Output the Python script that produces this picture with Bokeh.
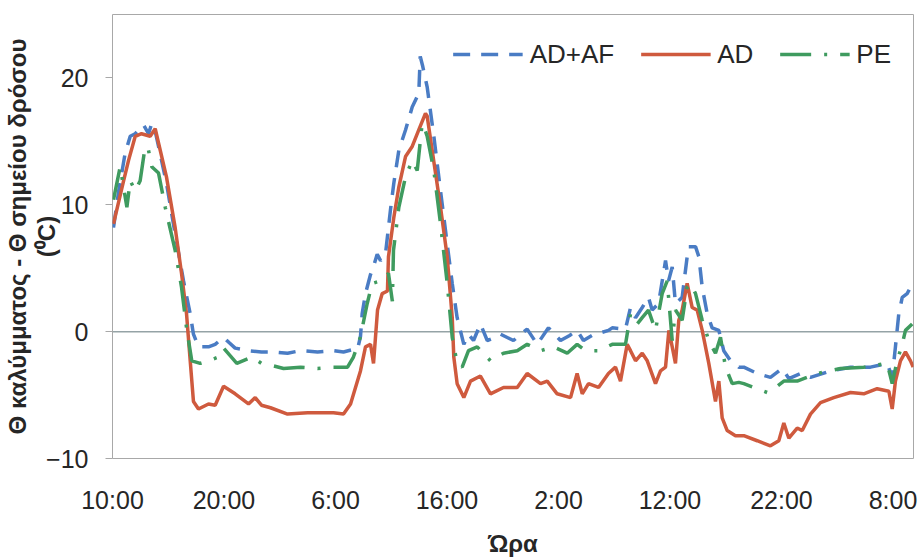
import math
from bokeh.plotting import figure
from bokeh.models import Range1d, FixedTicker, Span, Legend, LegendItem, LinearAxis
from bokeh.embed import file_html
from bokeh.resources import INLINE

# ---- axis ticks (hours since 10:00 of day 1) ----
tick_hours = [0, 10, 20, 30, 40, 50, 60, 70]
tick_labels = ["10:00", "20:00", "6:00", "16:00", "2:00", "12:00", "22:00", "8:00"]
y_ticks = [-10, 0, 10, 20]

# ---- AD+AF series ----
ad_af_h = [0.09, 0.54, 1.14, 1.59, 2.04, 2.78, 3.23, 3.52, 3.83, 4.13, 4.84, 5.62, 6.37, 6.97,
           7.26, 7.71, 8.61, 9.21, 9.96, 10.5, 11.0, 12.2, 13.36, 14.44, 15.7, 16.86, 18.39,
           19.82, 20.72, 21.61, 21.97, 22.24, 22.39, 22.69, 23.14, 23.29, 23.74, 24.04, 24.48,
           24.93, 25.23, 25.68, 26.28, 26.88, 27.47, 27.6, 27.8, 28.22, 28.82, 29.42, 30.02,
           30.47, 30.91, 31.51, 31.93, 32.38, 33.0, 33.61, 34.2, 34.8, 35.96, 37.19, 38.09,
           39.1, 40.18, 41.0, 41.67, 42.24, 43.02, 44.48, 44.82, 46.01, 46.46, 46.91, 47.51,
           48.07, 48.4, 48.97, 49.6, 49.87, 50.2, 50.49, 51.09, 51.54, 51.68, 52.29, 52.59,
           52.89, 53.34, 53.78, 54.38, 54.82, 55.43, 56.17, 56.62, 57.82, 59.01, 60.06, 60.66,
           61.7, 62.6, 64.39, 66.19, 67.98, 69.48, 69.93, 70.22, 70.52, 70.83, 71.27, 71.57,
           71.81]
ad_af_v = [8.2, 11.0, 14.1, 15.4, 15.6, 16.3, 15.6, 16.4, 15.8, 14.6, 11.7, 7.7, 4.0, 1.4,
           -0.2, -1.2, -1.2, -1.0, -0.45, -0.9, -1.3, -1.5, -1.6, -1.6, -1.7, -1.5, -1.6,
           -1.5, -1.6, -1.4, -1.4, -0.4, 1.4, 3.0, 4.5, 4.8, 6.1, 5.6, 6.1,
           9.6, 11.7, 14.3, 15.9, 17.7, 18.8, 21.7, 21.0, 19.3, 15.4, 11.1, 6.9,
           3.8, 1.1, -1.0, -0.2, -0.7, 0.6, -0.7, -0.5, -0.2, -0.7, 0.2, -1.0,
           0.3, -0.7, -0.3, 0.1, -0.7, -0.3, 0.1, 0.3, 0.2, 1.9, 1.1, 1.9,
           2.7, 1.7, 2.2, 5.6, 4.0, 5.1, 2.2, 2.7, 5.9, 6.7, 6.7, 5.9,
           3.5, 1.4, 0.3, 0.1, -1.5, -2.3, -2.8, -2.8, -3.3, -3.6, -2.9, -3.7,
           -3.3, -3.6, -3.1, -2.8, -2.8, -2.5, -3.6, -1.2, 1.4, 2.7, 3.0, 3.5,
           3.8]

# ---- AD series ----
ad_h = [0.09, 1.0, 1.44, 2.04, 2.6, 3.38, 3.83, 4.28, 4.84, 5.62, 6.19, 6.64, 6.97, 7.26,
        7.71, 8.61, 9.21, 9.96, 11.0, 12.2, 12.8, 13.36, 14.17, 15.7, 17.5, 19.82, 20.72,
        21.35, 22.24, 22.69, 23.14, 23.41, 23.77, 24.19, 24.66, 24.75, 25.23, 25.68, 26.28,
        26.88, 27.47, 28.07, 28.22, 28.67, 29.42, 30.02, 30.47, 30.61, 30.91, 31.51, 32.11,
        33.0, 33.9, 35.07, 36.3, 37.19, 38.39, 38.99, 39.88, 41.08, 41.67, 42.13, 42.69,
        43.59, 44.48, 45.11, 45.56, 46.16, 46.46, 46.91, 47.51, 47.96, 48.7, 49.15, 49.6,
        49.9, 50.2, 50.49, 50.79, 51.09, 51.54, 51.99, 52.44, 52.89, 53.48, 54.08, 54.38,
        54.68, 55.13, 55.87, 56.62, 57.82, 59.01, 59.76, 60.21, 60.66, 61.41, 61.86, 62.6,
        63.5, 64.69, 66.19, 67.38, 68.58, 69.63, 69.93, 70.22, 70.67, 71.12, 71.57, 71.81]
ad_v = [8.5, 11.9, 13.5, 15.4, 15.6, 15.4, 16.0, 14.3, 12.2, 8.2, 4.6, 1.4, -2.3, -5.5,
        -6.1, -5.7, -5.8, -4.3, -4.9, -5.7, -5.2, -5.8, -6.0, -6.5, -6.4, -6.4, -6.5,
        -5.7, -3.1, -1.2, -1.0, -2.5, 1.7, 3.0, 3.2, 5.9, 9.0, 11.4, 13.8,
        14.6, 15.9, 17.2, 17.0, 14.3, 9.8, 5.9, 1.1, -2.0, -4.1, -5.2, -3.9,
        -3.5, -4.9, -4.4, -4.4, -3.3, -4.1, -3.9, -4.9, -5.2, -3.3, -4.9, -4.1,
        -4.4, -3.3, -2.8, -3.9, -1.0, -1.5, -2.3, -1.7, -2.3, -4.1, -3.1, -2.8,
        0.1, -1.2, -2.5, 0.9, 1.7, 3.8, 1.9, 1.7, 0.1, -2.5, -5.5, -3.9,
        -6.8, -7.8, -8.2, -8.2, -8.6, -9.0, -8.6, -7.2, -8.4, -7.6, -7.8, -6.5,
        -5.6, -5.2, -4.8, -4.9, -4.5, -4.7, -6.1, -3.9, -2.3, -1.6, -2.3, -2.8]

# ---- PE series ----
pe_h = [0.09, 0.69, 1.29, 1.59, 2.04, 2.48, 2.93, 3.23, 3.52, 4.13, 4.73, 5.62, 6.19, 6.64,
        7.11, 7.87, 8.61, 9.51, 9.96, 11.15, 12.49, 13.36, 14.44, 15.34, 16.86, 18.39, 19.8,
        21.08, 21.61, 22.24, 22.84, 23.29, 24.04, 24.48, 24.75, 25.1, 25.2, 25.68, 26.28,
        26.88, 27.33, 27.77, 28.0, 28.22, 28.82, 29.42, 30.02, 30.47, 30.91, 31.36, 31.93,
        32.71, 33.9, 35.07, 36.3, 37.19, 38.39, 39.55, 40.78, 41.67, 42.42, 43.59, 44.82,
        46.01, 46.46, 47.06, 47.51, 48.07, 48.7, 49.3, 49.75, 50.2, 50.49, 51.09, 51.54,
        51.84, 52.29, 52.89, 53.48, 54.08, 54.53, 54.98, 55.58, 56.17, 56.62, 57.82, 58.72,
        59.46, 60.21, 61.41, 63.2, 65.29, 67.38, 69.48, 69.93, 70.37, 70.83, 71.12, 71.72]
pe_v = [10.4, 13.0, 9.8, 11.9, 11.1, 11.9, 14.6, 14.3, 13.0, 12.5, 9.8, 6.4, 3.5, 0.3,
        -2.3, -2.5, -2.3, -2.0, -1.3, -2.5, -2.0, -2.5, -2.7, -2.9, -2.8, -2.9, -2.8,
        -2.8, -2.0, -0.4, 2.2, 3.8, 4.0, 4.3, 4.6, 2.4, 6.4, 9.8, 12.2,
        13.5, 12.7, 16.4, 16.0, 15.4, 12.7, 8.5, 3.8, -0.45, -2.5, -2.8, -1.5,
        -1.2, -2.3, -1.7, -1.5, -1.0, -1.5, -1.2, -1.7, -1.0, -1.5, -1.5, -1.0,
        -1.0, 1.4, 0.6, 1.1, 1.7, 0.1, 3.0, 4.0, -0.7, 1.7, 0.9, 3.5,
        3.8, 3.0, 0.9, -0.7, -1.7, -0.45, -2.8, -4.1, -4.0, -4.1, -4.5, -4.8,
        -4.4, -3.9, -3.9, -3.3, -2.9, -2.8, -2.5, -4.1, -2.3, -1.0, 0.1, 0.6]

y_title_1 = "Θ καλύμματος - Θ σημείου δρόσου"
y_title_2 = "(⁰C)"
x_title = "Ώρα"

BLUE = "#4a7cc4"
RED = "#cf5a3e"
GREEN = "#3f9b5f"
TEXT = "#262626"
FONT = "Liberation Sans"

p = figure(width=921, height=559, output_backend="svg", toolbar_location=None,
           x_range=Range1d(0, 71.84), y_range=Range1d(-10, 25),
           min_border_left=112, min_border_right=8, min_border_top=14,
           min_border_bottom=101)
p.title.visible = False
p.background_fill_color = "white"
p.border_fill_color = "white"
p.outline_line_color = "#a8a8a8"
p.outline_line_width = 1
p.xgrid.visible = False
p.ygrid.visible = False

# zero line
p.add_layout(Span(location=0, dimension="width", line_color="#95a3a6",
                  line_width=1.5, level="underlay"))

r1 = p.line(ad_af_h, ad_af_v, line_color=BLUE, line_width=3.5, line_dash="17 11")
r2 = p.line(ad_h, ad_v, line_color=RED, line_width=3.5)
r3 = p.line(pe_h, pe_v, line_color=GREEN, line_width=3.5, line_dash="31 13 3 13")

# x axis
xa = p.xaxis[0]
xa.ticker = FixedTicker(ticks=tick_hours)
xa.major_label_overrides = {h: lab for h, lab in zip(tick_hours, tick_labels)}
xa.major_tick_out = 0
xa.major_tick_in = 0
xa.minor_tick_out = 0
xa.minor_tick_in = 0
xa.axis_line_color = None
xa.major_label_standoff = 27
xa.major_label_text_font = FONT
xa.major_label_text_font_size = "25px"
xa.major_label_text_color = TEXT
xa.axis_label = x_title
xa.axis_label_standoff = 13
xa.axis_label_text_font = FONT
xa.axis_label_text_font_size = "24px"
xa.axis_label_text_font_style = "bold"
xa.axis_label_text_color = TEXT
xa.axis_label_text_line_height = 1.0

# y axis (second title line next to tick labels)
ya = p.yaxis[0]
ya.ticker = FixedTicker(ticks=y_ticks)
ya.major_tick_out = 7
ya.major_tick_in = 0
ya.minor_tick_out = 0
ya.minor_tick_in = 0
ya.major_tick_line_color = "#a8a8a8"
ya.axis_line_color = None
ya.major_label_standoff = 17
ya.major_label_text_font = FONT
ya.major_label_text_font_size = "25px"
ya.major_label_text_color = TEXT
ya.axis_label = y_title_2
ya.axis_label_standoff = -17
ya.axis_label_text_font = FONT
ya.axis_label_text_font_size = "24px"
ya.axis_label_text_font_style = "bold"
ya.axis_label_text_color = TEXT
ya.axis_label_text_line_height = 1.0

# outer axis carrying the first title line
ya2 = LinearAxis(ticker=FixedTicker(ticks=[]), axis_line_color=None,
                 major_tick_out=0, major_tick_in=0, minor_tick_out=0, minor_tick_in=0,
                 major_label_text_font_size="0px", major_label_standoff=0,
                 axis_label=y_title_1, axis_label_standoff=0,
                 axis_label_text_font=FONT, axis_label_text_font_size="24px",
                 axis_label_text_font_style="bold", axis_label_text_color=TEXT,
                 axis_label_text_line_height=1.0)
p.add_layout(ya2, "left")

legend = Legend(items=[LegendItem(label="AD+AF", renderers=[r1]),
                       LegendItem(label="AD", renderers=[r2]),
                       LegendItem(label="PE", renderers=[r3])],
                orientation="horizontal", location="top_right",
                glyph_width=70, glyph_height=20, label_standoff=7, spacing=26,
                label_height=36, margin=22, padding=11,
                label_text_font=FONT, label_text_font_size="26px",
                label_text_color=TEXT,
                background_fill_alpha=0, border_line_color=None)
p.add_layout(legend)

open("out.html", "w").write(file_html(p, INLINE))
